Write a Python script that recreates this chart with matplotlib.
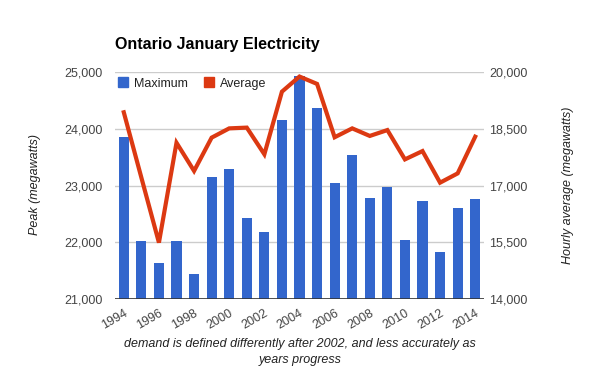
import matplotlib
matplotlib.use('Agg')
import matplotlib.pyplot as plt
from matplotlib.lines import Line2D
from matplotlib.ticker import FuncFormatter

plt.rcParams['font.family'] = ['Liberation Sans', 'DejaVu Sans']

# data
years = list(range(1994, 2015))
peak = [23860, 22020, 21640, 22020, 21440, 23150, 23290, 22430, 22180, 24150,
        24935, 24365, 23045, 23540, 22780, 22975, 22040, 22725, 21830, 22605, 22760]
average = [18935, 17210, 15490, 18130, 17385, 18265, 18510, 18530, 17825, 19480,
           19880, 19685, 18275, 18510, 18310, 18465, 17690, 17910, 17075, 17320, 18290]
tick_years = list(range(1994, 2015, 2))
left_ticks = [21000, 22000, 23000, 24000, 25000]
right_ticks = [14000, 15500, 17000, 18500, 20000]

blue = '#3366CC'
red = '#DC3912'
txt = '#222222'
lbl = '#444444'

fig = plt.figure(figsize=(6, 3.71), dpi=100)
ax = fig.add_axes([115/600, 1-299/371, 369/600, 227/371])
ax2 = ax.twinx()

ax.bar(years, [p - 21000 for p in peak], bottom=21000, width=0.58, color=blue, zorder=3)
ax2.plot(years, average, color=red, linewidth=3, solid_joinstyle='miter', zorder=4)

ax.set_xlim(1993.5, 2014.5)
ax.set_ylim(21000, 25000)
ax2.set_ylim(14000, 20000)
ax.set_yticks(left_ticks)
ax2.set_yticks(right_ticks)
fmt = FuncFormatter(lambda v, p: '{:,.0f}'.format(v))
ax.yaxis.set_major_formatter(fmt)
ax2.yaxis.set_major_formatter(fmt)

ax.set_xticks(tick_years)
ax.set_xticklabels([str(y) for y in tick_years], rotation=30, ha='right',
                   rotation_mode='anchor')
ax.tick_params(axis='x', length=0, pad=6, labelsize=9, labelcolor=lbl)
ax.tick_params(axis='y', length=0, pad=9, labelsize=9, labelcolor=lbl)
ax2.tick_params(axis='y', length=0, pad=4, labelsize=9, labelcolor=lbl)

ax.grid(axis='y', color='#cccccc', linewidth=1, zorder=0)
ax.set_axisbelow(True)
for a in (ax, ax2):
    for s in ['top', 'left', 'right', 'bottom']:
        a.spines[s].set_visible(False)
ax.axhline(21000, color='#333333', linewidth=1.2, zorder=5)

fig.text(115/600, 1-45/371, 'Ontario January Electricity', fontsize=11.5,
         fontweight='bold', color='black', ha='left', va='center')

handles = [Line2D([], [], marker='s', linestyle='none', markersize=7.5, color=blue),
           Line2D([], [], marker='s', linestyle='none', markersize=7.5, color=red)]
ax2.legend(handles, ['Maximum', 'Average'], loc='upper left', bbox_to_anchor=(-0.025, 1.025),
           ncol=2, frameon=False, fontsize=9, handletextpad=0.35, columnspacing=1.2,
           handlelength=1.0, labelcolor=txt)

fig.text(35/600, 1-185/371, 'Peak (megawatts)', rotation=90, style='italic',
         fontsize=9, color=txt, ha='center', va='center')
fig.text(568/600, 1-185/371, 'Hourly average (megawatts)', rotation=90, style='italic',
         fontsize=9, color=txt, ha='center', va='center')
fig.text(300/600, 1-352/371,
         'demand is defined differently after 2002, and less accurately as\nyears progress',
         style='italic', fontsize=9, color=txt, ha='center', va='center', linespacing=1.4)

fig.savefig('out.png', dpi=100)
